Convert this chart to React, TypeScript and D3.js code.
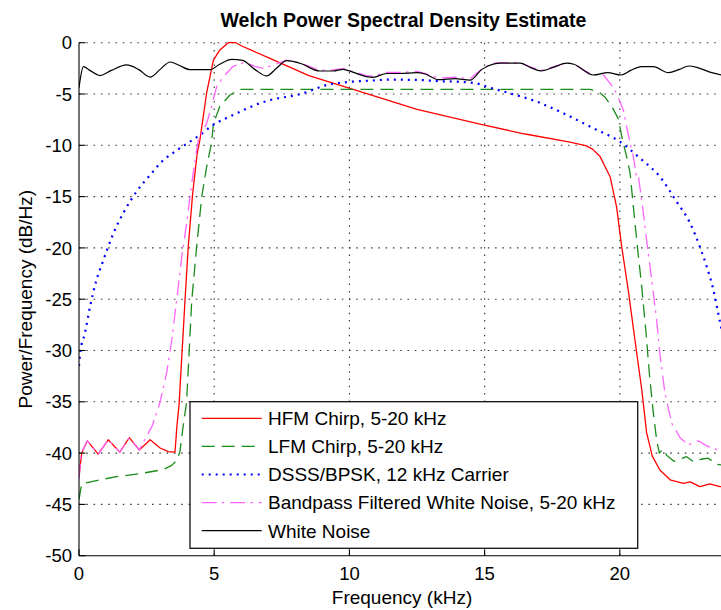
import React from 'react';
import * as d3 from 'd3';

type P = [number, number];

const xTicks = [0, 5, 10, 15, 20];
const yTicks = [0, -5, -10, -15, -20, -25, -30, -35, -40, -45, -50];

const hfm: P[] = [[0,-42.3],[0.1,-40.0],[0.31,-38.8],[0.71,-40.1],[1.08,-38.7],[1.51,-39.9],[1.86,-38.5],[2.23,-39.7],[2.63,-38.7],[3.0,-39.5],[3.3,-39.85],[3.55,-39.9],[3.62,-37.4],[3.7,-35.3],[3.92,-25.1],[4.04,-19.9],[4.2,-14.8],[4.37,-10.8],[4.47,-9.5],[4.72,-4.9],[4.97,-1.7],[5.21,-0.7],[5.52,0],[5.8,0],[6.0,-0.3],[7.06,-1.52],[8.5,-3.2],[10.02,-4.45],[12.5,-6.5],[14.95,-8.02],[16.5,-8.9],[18.16,-9.7],[18.77,-10.05],[19.0,-10.4],[19.27,-11.1],[19.64,-13.06],[19.88,-16.0],[20.07,-19.9],[20.31,-24.1],[20.56,-29.0],[20.81,-33.8],[20.99,-38.0],[21.2,-40.3],[21.48,-41.65],[21.86,-42.6],[22.35,-42.95],[22.6,-42.8],[22.96,-43.27],[23.33,-43.0],[23.7,-43.27],[24,-43.3]];

const lfm: P[] = [[0,-44.5],[0.1,-43.0],[0.78,-42.6],[1.39,-42.3],[2.26,-42.0],[3.12,-41.6],[3.43,-41.2],[3.62,-40.7],[3.73,-39.9],[3.83,-37.8],[3.98,-35.0],[4.17,-25.1],[4.35,-19.9],[4.54,-15.0],[4.72,-12.1],[4.9,-9.8],[4.97,-7.9],[5.21,-6.2],[5.58,-5.1],[5.95,-4.55],[10,-4.55],[15,-4.55],[18.9,-4.55],[19.2,-4.77],[19.45,-5.3],[19.7,-6.2],[19.94,-7.4],[20.1,-9.5],[20.25,-11.1],[20.38,-12.7],[20.5,-16.0],[20.65,-19.9],[20.81,-23.8],[20.97,-28.3],[21.09,-32.2],[21.24,-36.1],[21.36,-38.7],[21.46,-40.0],[21.6,-39.6],[21.73,-40.2],[22.0,-40.8],[22.2,-40.6],[22.47,-40.35],[22.7,-40.8],[22.84,-40.8],[23.0,-40.6],[23.27,-40.5],[23.58,-41.1],[24,-41.2]];

const dsss: P[] = [[0,-31.5],[0.04,-30.3],[0.22,-28.3],[0.41,-25.7],[0.65,-23.1],[0.9,-21.2],[1.27,-18.6],[1.64,-16.6],[2.13,-14.5],[2.63,-12.9],[3.06,-11.6],[3.61,-10.5],[4.1,-9.65],[4.47,-9.0],[4.97,-8.0],[5.7,-7.05],[6.69,-5.9],[7.06,-5.6],[8.2,-5.0],[9.2,-4.1],[10.1,-3.8],[10.76,-3.7],[11.5,-3.6],[12.61,-3.64],[13.3,-3.75],[13.97,-3.8],[14.7,-3.96],[15.08,-4.29],[15.94,-4.93],[16.93,-5.75],[17.85,-6.8],[19.02,-8.34],[20.0,-9.65],[20.75,-11.27],[21.48,-13.06],[22.1,-15.5],[22.6,-17.6],[22.96,-19.9],[23.21,-21.8],[23.46,-24.1],[23.64,-26.4],[23.74,-27.7],[24,-31]];

const bandpass: P[] = [[0,-42.5],[0.08,-40],[0.31,-38.8],[0.71,-40.1],[1.08,-38.7],[1.51,-39.9],[1.86,-38.5],[2.23,-39.7],[2.45,-38.6],[2.7,-37.4],[2.87,-36.1],[3.0,-35.0],[3.24,-32.2],[3.43,-29.0],[3.61,-25.1],[3.8,-20.9],[3.98,-17.6],[4.17,-13.7],[4.33,-10.8],[4.41,-9.5],[4.72,-7.86],[4.9,-6.24],[5.09,-4.29],[5.34,-3.31],[5.7,-2.3],[6.14,-1.9],[6.5,-2.3],[6.82,-2.5],[7.19,-2.17],[7.68,-1.7],[8.17,-1.95],[8.9,-2.7],[9.4,-2.65],[9.77,-2.5],[10.1,-2.8],[10.64,-3.2],[10.87,-3.25],[11.38,-2.9],[11.87,-2.9],[12.49,-2.8],[12.8,-3.0],[13.3,-3.45],[13.9,-3.35],[14.46,-3.5],[14.9,-2.55],[15.32,-2.0],[15.6,-1.95],[16.31,-1.95],[16.68,-2.35],[17.08,-2.7],[17.54,-2.35],[18.04,-1.95],[18.3,-2.1],[18.65,-2.66],[19.0,-3.1],[19.39,-3.15],[19.64,-3.96],[19.88,-4.93],[20.13,-6.56],[20.25,-8.19],[20.38,-9.8],[20.5,-11.1],[20.62,-13.06],[20.68,-12.9],[20.87,-16.6],[21.02,-19.9],[21.18,-23.1],[21.36,-27.0],[21.48,-30.3],[21.67,-34.2],[21.92,-37.1],[22.23,-38.5],[22.53,-39.2],[22.9,-38.8],[23.21,-39.3],[23.64,-39.7],[24,-39.7]];

const whiteNoise: P[] = [[0,-4.4],[0.05,-3.5],[0.16,-2.34],[0.4,-2.7],[0.78,-3.2],[1.2,-2.7],[1.76,-2.17],[2.2,-2.6],[2.63,-3.35],[3.0,-2.6],[3.37,-1.88],[3.7,-2.2],[4.1,-2.63],[4.84,-2.63],[5.2,-2.1],[5.65,-1.62],[6.05,-1.72],[6.5,-2.6],[6.94,-3.24],[7.3,-2.5],[7.68,-1.75],[8.17,-2.0],[8.9,-2.76],[9.4,-2.76],[9.77,-2.6],[10.1,-2.85],[10.64,-3.31],[10.87,-3.37],[11.38,-3.0],[11.87,-3.0],[12.49,-2.92],[12.8,-3.05],[13.3,-3.6],[13.9,-3.5],[14.46,-3.65],[14.9,-2.6],[15.32,-2.08],[15.6,-2.0],[16.31,-2.0],[16.68,-2.4],[17.08,-2.75],[17.54,-2.4],[18.04,-2.0],[18.3,-2.1],[19.02,-3.15],[19.55,-2.92],[20.05,-3.15],[20.4,-2.7],[20.8,-2.34],[21.24,-2.34],[21.8,-2.92],[22.2,-2.6],[22.55,-2.27],[22.9,-2.45],[23.4,-2.92],[24,-3.25]];

const seriesLabels = [
  'HFM Chirp, 5-20 kHz',
  'LFM Chirp, 5-20 kHz',
  'DSSS/BPSK, 12 kHz Carrier',
  'Bandpass Filtered White Noise, 5-20 kHz',
  'White Noise',
];
const seriesData = [hfm, lfm, dsss, bandpass, whiteNoise];
const seriesStyle = [
  { color: '#ff0000', dash: 'none', width: 1.3, smooth: false },
  { color: '#1a8c1a', dash: '13,7', width: 1.3, smooth: false },
  { color: '#0000ff', dash: '2,5', width: 2.2, smooth: true },
  { color: '#ff66ff', dash: '15,5,2.5,6', width: 1.3, smooth: false },
  { color: '#000000', dash: 'none', width: 1.2, smooth: true },
];

const FONT = '"Liberation Sans", Arial, Helvetica, sans-serif';

export default function App() {
  const W = 721, H = 610;
  const x0 = 79, x1 = 728, yTop = 42.7, yBot = 555.7;
  const x = d3.scaleLinear().domain([0, 24]).range([x0, x1]);
  const y = d3.scaleLinear().domain([-50, 0]).range([yBot, yTop]);
  const line = d3.line<P>().x(d => x(d[0])).y(d => y(d[1]));
  const smoothLine = d3.line<P>().x(d => x(d[0])).y(d => y(d[1])).curve(d3.curveMonotoneX);

  const lg = { left: 190, top: 401.7, right: 637.7, bottom: 548.3 };
  const rowH = 28.1;
  const firstRow = 16.6;

  return (
    <svg width={W} height={H} style={{ position: 'absolute', left: 0, top: 0, background: '#fff' }} fontFamily={FONT}>
      <rect x={0} y={0} width={W} height={H} fill="#fff" />
      <defs>
        <clipPath id="plotclip">
          <rect x={x0} y={yTop - 2} width={x1 - x0} height={yBot - yTop + 2} />
        </clipPath>
      </defs>
      {/* grid */}
      <g stroke="#333" strokeWidth={1.1} strokeDasharray="1.5,5.8">
        {yTicks.filter(t => t !== -50).map(t => (
          <line key={'gy' + t} x1={x0} x2={x1} y1={y(t)} y2={y(t)} />
        ))}
        {xTicks.filter(t => t !== 0).map(t => (
          <line key={'gx' + t} x1={x(t)} x2={x(t)} y1={yTop} y2={yBot} />
        ))}
      </g>
      {/* series */}
      <g clipPath="url(#plotclip)" fill="none">
        {seriesData.map((d, i) => (
          <path key={i} d={(seriesStyle[i].smooth ? smoothLine(d) : line(d)) || ''} stroke={seriesStyle[i].color}
            strokeWidth={seriesStyle[i].width} strokeDasharray={seriesStyle[i].dash} strokeLinejoin="round" />
        ))}
      </g>
      {/* axes */}
      <g stroke="#000" strokeWidth={1.1}>
        <line x1={x0} x2={x0} y1={yTop} y2={yBot} />
        <line x1={x0} x2={W} y1={yBot} y2={yBot} />
        {yTicks.map(t => (
          <line key={'ty' + t} x1={x0} x2={x0 + 6.5} y1={y(t)} y2={y(t)} />
        ))}
        {xTicks.map(t => (
          <line key={'tx' + t} x1={x(t)} x2={x(t)} y1={yBot} y2={yBot - 6.5} />
        ))}
      </g>
      <g fontSize={18.5} fill="#000">
        {yTicks.map(t => (
          <text key={'ly' + t} x={x0 - 7} y={y(t)} dy="0.36em" textAnchor="end">{t}</text>
        ))}
        {xTicks.map(t => (
          <text key={'lx' + t} x={x(t)} y={580} textAnchor="middle">{t}</text>
        ))}
      </g>
      <text x={(x0 + x1) / 2} y={26.5} textAnchor="middle" fontWeight="bold" fontSize={19.5}>
        Welch Power Spectral Density Estimate
      </text>
      <text x={402} y={604} textAnchor="middle" fontSize={19}>Frequency (kHz)</text>
      <text transform={`translate(31.5, ${(yTop + yBot) / 2}) rotate(-90)`} textAnchor="middle" fontSize={19}>
        Power/Frequency (dB/Hz)
      </text>
      {/* legend */}
      <rect x={lg.left} y={lg.top} width={lg.right - lg.left} height={lg.bottom - lg.top}
        fill="#fff" stroke="#111" strokeWidth={1.3} />
      {seriesLabels.map((lab, i) => {
        const cy = lg.top + firstRow + i * rowH;
        const s = seriesStyle[i];
        return (
          <g key={'lg' + i}>
            <line x1={201.7} x2={261.7} y1={cy} y2={cy} stroke={s.color} strokeWidth={s.width}
              strokeDasharray={s.dash} />
            <text x={268} y={cy} dy="0.36em" fontSize={19} fill="#000">{lab}</text>
          </g>
        );
      })}
    </svg>
  );
}
